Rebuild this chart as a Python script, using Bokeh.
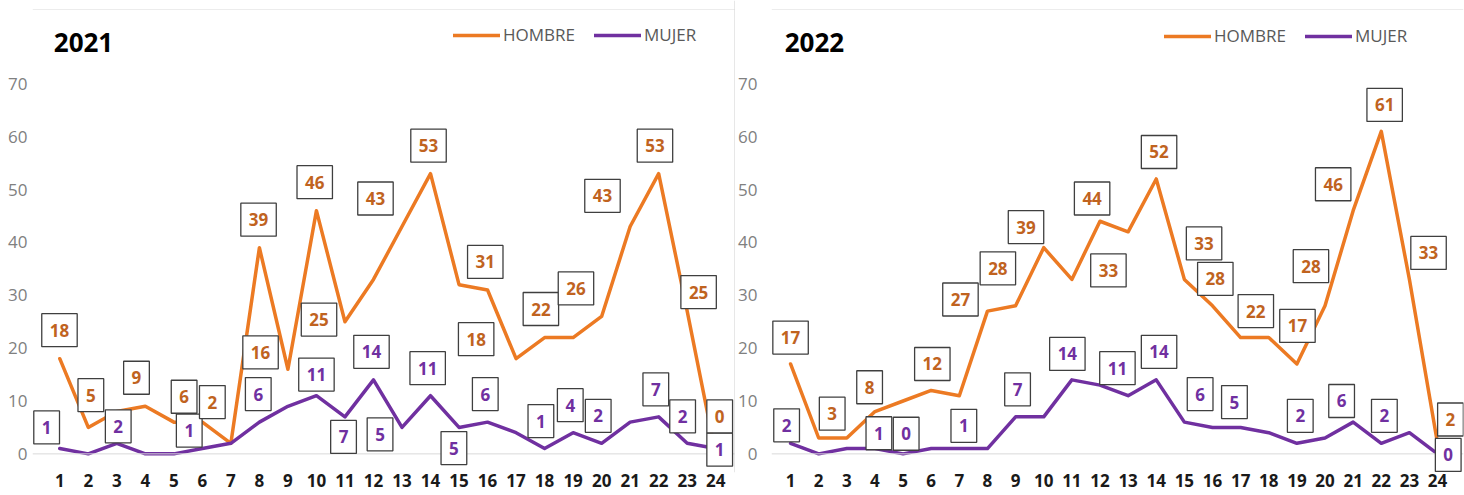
from bokeh.plotting import figure
from bokeh.layouts import row
from bokeh.models import Range1d, FixedTicker, Span, Label
from bokeh.embed import file_html
from bokeh.resources import INLINE

# ---------------- data ----------------
HOURS = list(range(1, 25))
Y_TICKS = [0, 10, 20, 30, 40, 50, 60, 70]
SERIES = ["HOMBRE", "MUJER"]

HOMBRE_2021 = [18, 5, 8, 9, 6, 6, 2, 39, 16, 46, 25, 33, 43, 53, 32, 31, 18, 22, 22, 26, 43, 53, 27, 0]
MUJER_2021 = [1, 0, 2, 0, 0, 1, 2, 6, 9, 11, 7, 14, 5, 11, 5, 6, 4, 1, 4, 2, 6, 7, 2, 1]
HOMBRE_2022 = [17, 3, 3, 8, 10, 12, 11, 27, 28, 39, 33, 44, 42, 52, 33, 28, 22, 22, 17, 28, 46, 61, 33, 2]
MUJER_2022 = [2, 0, 1, 1, 0, 1, 1, 1, 7, 7, 14, 13, 11, 14, 6, 5, 5, 4, 2, 3, 6, 2, 4, 0]

# data-label texts as printed in the picture
LBL21_H_TEXT = ["18", "5", "9", "6", "2", "39", "16", "46", "25", "43", "53", "31", "18", "22", "26", "43", "53", "25", "0"]
LBL21_M_TEXT = ["1", "2", "1", "6", "11", "7", "14", "5", "11", "5", "6", "1", "4", "2", "7", "2", "1"]
LBL22_H_TEXT = ["17", "3", "8", "12", "27", "28", "39", "44", "33", "52", "33", "28", "22", "17", "28", "46", "61", "33", "2"]
LBL22_M_TEXT = ["2", "1", "0", "1", "7", "14", "11", "14", "6", "5", "2", "6", "2", "0"]

# ---------------- label placement (layout) ----------------
LBL21_H_X = [0.99, 2.09, 3.69, 5.36, 6.35, 7.97, 8.04, 9.94, 10.09, 12.07, 13.93, 15.92, 15.6, 17.87, 19.1, 20.03, 21.87, 23.4, 24.14]
LBL21_H_Y = [23.4, 11.1, 14.4, 10.8, 9.8, 44.3, 19.2, 51.4, 25.4, 48.3, 58.3, 36.3, 21.7, 27.4, 31.3, 48.8, 58.3, 30.6, 7.1]
LBL21_M_X = [0.54, 3.05, 5.54, 7.96, 10.0, 10.95, 11.93, 12.23, 13.9, 14.82, 15.92, 17.87, 18.9, 19.88, 21.9, 22.84, 24.14]
LBL21_M_Y = [5.0, 5.2, 4.4, 11.3, 15.0, 3.2, 19.3, 3.7, 16.2, 1.1, 11.3, 6.2, 9.2, 7.2, 12.2, 7.1, 0.8]
LBL22_H_X = [1.0, 2.48, 3.81, 6.04, 7.04, 8.37, 9.37, 11.72, 12.3, 14.1, 15.7, 16.1, 17.54, 19.02, 19.5, 20.29, 22.12, 23.68, 24.46]
LBL22_H_Y = [22.0, 7.6, 12.6, 17.0, 29.2, 35.1, 42.9, 48.3, 34.7, 57.1, 39.8, 33.1, 27.0, 24.2, 35.5, 51.0, 66.0, 38.0, 6.5]
LBL22_M_X = [0.86, 4.14, 5.11, 7.16, 9.07, 10.84, 12.62, 14.1, 15.56, 16.78, 19.12, 20.59, 22.11, 24.38]
LBL22_M_Y = [5.4, 3.9, 3.8, 5.3, 12.2, 18.9, 16.2, 19.3, 11.3, 9.8, 7.2, 10.0, 7.2, -0.2]

ORANGE = "#EC7A23"
PURPLE = "#7030A0"
ORANGE_TXT = "#C0631F"
FONT = "Open Sans"
Y_START, Y_END = -3.526, 85.756


def make_panel(title, hombre, mujer, h_lbl, m_lbl, width, b_left, b_right, x_start, x_end,
               y_standoff, legend_xy, divider):
    p = figure(width=width, height=495, x_range=Range1d(x_start, x_end), y_range=Range1d(Y_START, Y_END),
               output_backend="svg", toolbar_location=None,
               min_border_left=b_left, min_border_right=b_right, min_border_top=0, min_border_bottom=23)
    p.outline_line_color = None
    p.background_fill_color = "white"
    p.border_fill_color = "white"
    p.xgrid.visible = False
    p.ygrid.visible = False

    xa = p.xaxis[0]
    xa.ticker = FixedTicker(ticks=HOURS)
    xa.axis_line_color = None
    xa.major_tick_line_color = None
    xa.minor_tick_line_color = None
    xa.major_tick_out = 0
    xa.major_tick_in = 0
    xa.major_label_standoff = 1
    xa.major_label_text_font = FONT
    xa.major_label_text_font_size = "17px"
    xa.major_label_text_font_style = "bold"
    xa.major_label_text_color = "#1a1a1a"

    ya = p.yaxis[0]
    ya.ticker = FixedTicker(ticks=Y_TICKS)
    ya.axis_line_color = None
    ya.major_tick_line_color = None
    ya.minor_tick_line_color = None
    ya.major_tick_out = 0
    ya.major_tick_in = 0
    ya.major_label_standoff = y_standoff
    ya.major_label_text_font = FONT
    ya.major_label_text_font_size = "17px"
    ya.major_label_text_color = "#808080"

    p.add_layout(Span(location=0, dimension="width", line_color="#d9d9d9", line_width=1))
    p.add_layout(Span(location=84.05, dimension="width", line_color="#ececec", line_width=1))
    if divider:
        p.add_layout(Span(location=x_end - 0.02, dimension="height", line_color="#d6d6d6", line_width=1))

    p.line(HOURS, hombre, line_color=ORANGE, line_width=3.5, line_join="round", line_cap="round",
           legend_label=SERIES[0])
    p.line(HOURS, mujer, line_color=PURPLE, line_width=3.5, line_join="round", line_cap="round",
           legend_label=SERIES[1])

    lg = p.legend[0]
    lg.orientation = "horizontal"
    lg.location = legend_xy
    lg.glyph_width = 47
    lg.glyph_height = 22
    lg.label_height = 22
    lg.label_standoff = 3
    lg.spacing = 19
    lg.padding = 0
    lg.margin = 0
    lg.border_line_color = None
    lg.background_fill_alpha = 0
    lg.label_text_font = FONT
    lg.label_text_font_size = "17px"
    lg.label_text_color = "#595959"

    p.add_layout(Label(x=0.79, y=77.8, text=title, text_align="left", text_baseline="middle",
                       text_font=FONT, text_font_size="26px", text_font_style="bold", text_color="black"))

    for (texts, xs, ys), col in ((m_lbl, PURPLE), (h_lbl, ORANGE_TXT)):
        for t, x, y in zip(texts, xs, ys):
            p.add_layout(Label(x=x, y=y, text=t, text_align="center", text_baseline="middle",
                               text_font=FONT, text_font_size="17px", text_font_style="bold",
                               text_color=col, background_fill_color="white",
                               border_line_color="#3f3f3f", border_line_width=1.3, padding=(8, 10)))
    return p


p1 = make_panel("2021", HOMBRE_2021, MUJER_2021,
                (LBL21_H_TEXT, LBL21_H_X, LBL21_H_Y), (LBL21_M_TEXT, LBL21_M_X, LBL21_M_Y),
                width=735, b_left=32, b_right=0, x_start=0.044, x_end=24.694, y_standoff=5,
                legend_xy=(421, 426), divider=True)
p2 = make_panel("2022", HOMBRE_2022, MUJER_2022,
                (LBL22_H_TEXT, LBL22_H_X, LBL22_H_Y), (LBL22_M_TEXT, LBL22_M_X, LBL22_M_Y),
                width=729, b_left=35, b_right=1, x_start=0.3225, x_end=24.923, y_standoff=14,
                legend_xy=(393, 425), divider=False)

layout = row(p1, p2, spacing=0)
open("out.html", "w").write(file_html(layout, INLINE))
